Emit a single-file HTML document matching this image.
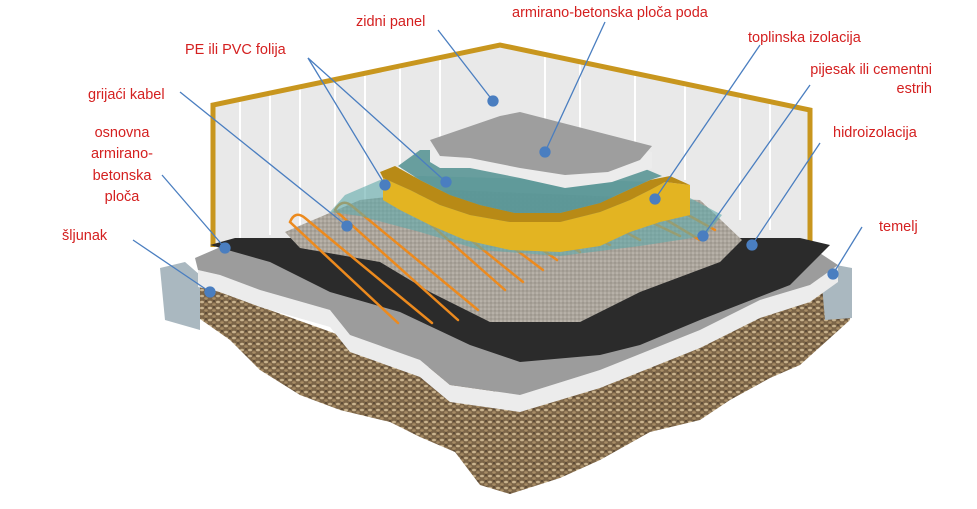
<!DOCTYPE html>
<html><head><meta charset="utf-8"><style>
html,body{margin:0;padding:0;background:#fff;width:977px;height:509px;overflow:hidden}
svg{display:block}
text{font-family:"Liberation Sans",sans-serif;font-size:14.5px;fill:#d42020}
</style></head><body>
<svg width="977" height="509" viewBox="0 0 977 509">
<defs>
<pattern id="grav" width="8" height="6" patternUnits="userSpaceOnUse">
<rect width="8" height="6" fill="#7c6548"/>
<ellipse cx="2" cy="2" rx="2" ry="1.3" fill="#c9b38e"/>
<ellipse cx="6" cy="4.5" rx="1.8" ry="1.2" fill="#a88d66"/>
<circle cx="6" cy="1" r="0.8" fill="#3d3024"/>
</pattern>
<pattern id="sand" width="4" height="4" patternUnits="userSpaceOnUse">
<rect width="4" height="4" fill="#aaa49b"/><circle cx="1" cy="1" r="0.8" fill="#c8c2b8"/><circle cx="3" cy="3" r="0.7" fill="#8e887f"/>
</pattern>
</defs>
<!-- walls -->
<polygon points="213,105 500,45 810,110 810,245 213,245" fill="#e9e9e9"/>
<g stroke="#fff" stroke-width="2">
<line x1="240" y1="100" x2="240" y2="240"/><line x1="270" y1="93" x2="270" y2="235"/><line x1="300" y1="87" x2="300" y2="230"/><line x1="335" y1="80" x2="335" y2="220"/><line x1="365" y1="73" x2="365" y2="200"/><line x1="400" y1="66" x2="400" y2="180"/><line x1="440" y1="58" x2="440" y2="160"/><line x1="545" y1="55" x2="545" y2="130"/><line x1="580" y1="62" x2="580" y2="140"/><line x1="635" y1="73" x2="635" y2="160"/><line x1="685" y1="84" x2="685" y2="180"/><line x1="740" y1="95" x2="740" y2="220"/><line x1="770" y1="102" x2="770" y2="230"/>
</g>
<polyline points="213,247 213,105 500,45 810,110 810,245" fill="none" stroke="#c8961e" stroke-width="5"/>
<!-- gravel -->
<polygon points="165,280 200,285 520,400 852,280 850,320 800,365 770,378 730,400 700,420 650,432 600,460 560,478 510,494 480,485 455,452 420,437 390,422 340,410 300,395 260,370 230,340 190,312 168,300" fill="url(#grav)"/>
<!-- foundation -->
<polygon points="160,268 185,262 200,275 200,330 165,320" fill="#aab8c0"/>
<polygon points="820,262 852,268 852,318 825,320" fill="#aab8c0"/>
<!-- concrete slab -->
<polygon points="198,270 220,275 260,290 330,310 350,335 420,360 450,385 520,395 600,370 650,350 700,330 760,300 810,285 838,265 838,282 810,302 760,318 700,348 650,368 600,388 520,412 450,402 420,377 350,352 330,327 260,307 220,292 198,287" fill="#ececec"/>
<polygon points="195,258 232,242 800,240 838,265 810,285 760,300 700,330 650,350 600,370 520,395 450,385 420,360 350,335 330,310 260,290 220,275 198,270" fill="#9c9c9c"/>
<!-- black hydro -->
<polygon points="210,245 235,238 800,238 830,245 790,285 700,320 640,345 600,355 520,362 470,345 400,312 330,292 270,262" fill="#2b2b2b"/>
<!-- sand -->
<polygon points="285,232 360,200 450,190 700,200 742,240 720,262 640,292 580,322 490,322 430,292 380,262 300,248" fill="url(#sand)"/>
<!-- pipes -->
<g stroke="#ec8a1e" stroke-width="2.5" fill="none" stroke-linecap="round">
<path d="M398,323 L290,222 Q295,210 305,218 L432,323"/>
<path d="M458,320 L335,210 Q342,198 352,206 L478,310"/>
<line x1="505" y1="290" x2="420" y2="215"/><line x1="523" y1="282" x2="440" y2="215"/><line x1="543" y1="270" x2="470" y2="215"/><line x1="557" y1="260" x2="500" y2="220"/><line x1="580" y1="252" x2="530" y2="222"/><line x1="610" y1="245" x2="560" y2="220"/><line x1="640" y1="240" x2="600" y2="218"/><line x1="680" y1="236" x2="630" y2="212"/><line x1="700" y1="240" x2="650" y2="210"/><line x1="715" y1="230" x2="670" y2="205"/>
</g>
<!-- teal foil lower -->
<polygon points="345,195 380,180 420,176 660,182 722,215 705,236 640,246 560,256 480,250 420,232 360,216 330,212" fill="rgba(95,170,170,0.6)"/>
<!-- gold insulation front face -->
<polygon points="383,178 410,190 440,205 470,215 510,222 560,222 600,212 630,200 650,190 665,182 690,185 690,215 660,222 630,232 600,246 560,252 510,250 465,240 430,225 400,210 383,200" fill="#e3b422"/>
<!-- gold top face -->
<polygon points="380,172 395,166 420,180 450,195 480,205 515,213 560,213 600,203 628,190 650,180 670,176 690,185 665,182 650,190 630,200 600,212 560,222 510,222 470,215 440,205 410,190 383,178" fill="#b88a16"/>
<!-- teal upper -->
<polygon points="398,166 420,150 600,150 662,176 650,180 628,190 600,203 560,213 515,213 480,205 450,195 420,180" fill="rgba(90,150,150,0.9)"/>
<!-- top slab -->
<polygon points="430,148 500,122 520,118 652,152 652,168 612,182 565,188 520,178 470,168 440,168 430,162" fill="#ececec"/>
<polygon points="430,140 500,116 520,112 652,146 640,160 608,172 565,175 520,168 470,158 440,156" fill="#9e9e9e"/>
<!-- leaders -->
<g stroke="#4a7ec0" stroke-width="1.3" fill="#4a7ec0">
<line x1="438" y1="30" x2="493" y2="101"/><circle cx="493" cy="101" r="5"/>
<line x1="605" y1="22" x2="545" y2="152"/><circle cx="545" cy="152" r="5"/>
<line x1="760" y1="45" x2="655" y2="199"/><circle cx="655" cy="199" r="5"/>
<line x1="810" y1="85" x2="703" y2="236"/><circle cx="703" cy="236" r="5"/>
<line x1="820" y1="143" x2="752" y2="245"/><circle cx="752" cy="245" r="5"/>
<line x1="862" y1="227" x2="833" y2="274"/><circle cx="833" cy="274" r="5"/>
<line x1="308" y1="58" x2="385" y2="185"/><circle cx="385" cy="185" r="5"/>
<line x1="308" y1="58" x2="446" y2="182"/><circle cx="446" cy="182" r="5"/>
<line x1="180" y1="92" x2="347" y2="226"/><circle cx="347" cy="226" r="5"/>
<line x1="162" y1="175" x2="225" y2="248"/><circle cx="225" cy="248" r="5"/>
<line x1="133" y1="240" x2="210" y2="292"/><circle cx="210" cy="292" r="5"/>
</g>
<!-- labels -->
<text x="356" y="26">zidni panel</text>
<text x="512" y="17">armirano-betonska ploča poda</text>
<text x="748" y="42">toplinska izolacija</text>
<text x="932" y="74" text-anchor="end">pijesak ili cementni</text>
<text x="932" y="93" text-anchor="end">estrih</text>
<text x="833" y="137">hidroizolacija</text>
<text x="879" y="231">temelj</text>
<text x="185" y="54">PE ili PVC folija</text>
<text x="88" y="99">grijaći kabel</text>
<text x="122" y="137" text-anchor="middle">osnovna</text>
<text x="122" y="158" text-anchor="middle">armirano-</text>
<text x="122" y="180" text-anchor="middle">betonska</text>
<text x="122" y="201" text-anchor="middle">ploča</text>
<text x="62" y="240">šljunak</text>
</svg>
</body></html>
